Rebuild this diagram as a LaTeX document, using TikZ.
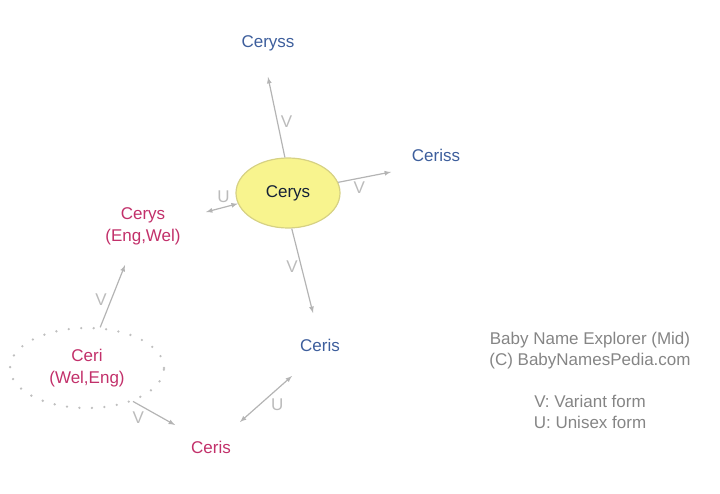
\documentclass[tikz,border=0pt]{standalone}
\usepackage{fontspec}
\setmainfont{Liberation Sans}
\usepackage{tikz}
\usetikzlibrary{arrows,positioning,shapes}
\definecolor{namblue}{HTML}{3D5E9C}
\definecolor{namred}{HTML}{C2306A}
\definecolor{linkgray}{HTML}{B4B4B4}
\definecolor{labgray}{HTML}{BBBBBB}
\definecolor{notegray}{HTML}{858585}
\definecolor{focusfill}{HTML}{F8F48E}
\definecolor{focusline}{HTML}{D6D184}
\tikzset{
  babyname/.style={font=\fontsize{17}{22}\selectfont,align=center,inner sep=1pt},
  blue name/.style={babyname,text=namblue},
  red name/.style={babyname,text=namred},
  focus/.style={babyname,ellipse,draw=focusline,line width=1.2pt,fill=focusfill,
    text=black!65!namblue,minimum width=104pt,minimum height=70pt},
  origin/.style={babyname,ellipse,draw=black!25,line width=2.6pt,line cap=round,
    dash pattern=on 0pt off 12.5pt,text=namred,minimum width=154pt,minimum height=80pt},
  links/.style={
    every edge/.style={draw=linkgray,line width=1.2pt,-latex},
    every node/.style={font=\fontsize{17}{20}\selectfont,text=labgray,inner sep=1pt}
  },
  note/.style={font=\fontsize{17}{21}\selectfont,text=notegray,align=center}
}
\begin{document}
\begin{tikzpicture}[x=1pt,y=-1pt]
  \useasboundingbox (0,0) rectangle (720,494);
  \node[focus] (cerys) at (288,193) {Cerys};
  \node[blue name] (ceryss) at (268,43) {Ceryss};
  \node[blue name] (ceriss) at (436,155) {Ceriss};
  \node[red name] (cerysew) at (143,226) {Cerys\\(Eng,Wel)};
  \node[origin] (ceri) at (87,368) {Ceri\\(Wel,Eng)};
  \node[blue name] (cerisb) at (320,345) {Ceris};
  \node[red name] (cerisr) at (211,447) {Ceris};
  \coordinate (ceryss end) at (268,77);
  \coordinate (ceriss end) at (391,172);
  \coordinate (cerysew end) at (206,212);
  \coordinate (cerisb end) at (313,313);
  \coordinate (cerisb end2) at (292,376);
  \coordinate (cerisr end) at (240,422);
  \coordinate (cerisr end2) at (175,425);
  \coordinate (cerysew end2) at (125,265);
  \path[links]
    (cerys.95) edge node[pos=0.45,right=2pt] {V} (ceryss end)
    (cerys.12) edge node[pos=0.4,below=2pt] {V} (ceriss end)
    (cerys.192) edge[latex-latex] node[pos=0.45,above=3pt] {U} (cerysew end)
    (cerys.276) edge node[pos=0.45,left=2pt] {V} (cerisb end)
    (ceri.72) edge node[pos=0.45,left=3pt] {V} (cerysew end2)
    (ceri.-36) edge node[pos=0.3,below left=2pt and 0pt] {V} (cerisr end2)
    (cerisr end) edge[latex-latex] node[pos=0.55,below right=1pt and 1pt] {U} (cerisb end2)
  ;
  \node[note] (credit) at (590,351) {Baby Name Explorer (Mid)\\(C) BabyNamesPedia.com};
  \node[note] (legend) at (590,412) {V: Variant form\\U: Unisex form};
\end{tikzpicture}
\end{document}
